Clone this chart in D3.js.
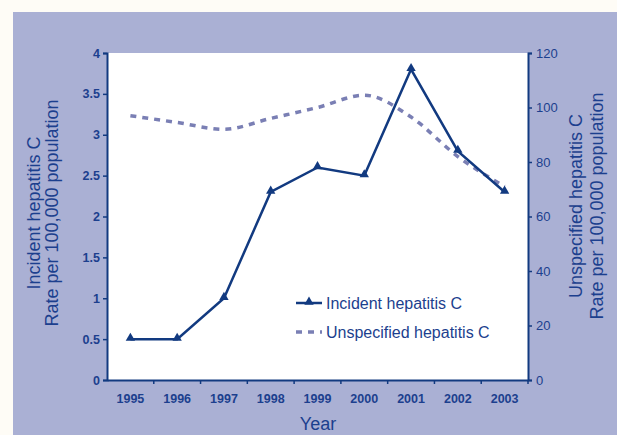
<!DOCTYPE html>
<html>
<head>
<meta charset="utf-8">
<script src="https://cdn.jsdelivr.net/npm/d3@7"></script>
<style>
  body { margin: 0; background: #fefcf6; }
  text { font-family: "Liberation Sans", Arial, sans-serif; }
</style>
</head>
<body>
<div id="chart"></div>
<script>
// chart values
var years = ["1995", "1996", "1997", "1998", "1999", "2000", "2001", "2002", "2003"];
var incident = [0.5, 0.5, 1.0, 2.3, 2.6, 2.5, 3.8, 2.8, 2.3];
var unspecified = [97, 94.5, 92, 96, 100, 104.5, 96.5, 82, 71];
var leftTicks = [0, 0.5, 1, 1.5, 2, 2.5, 3, 3.5, 4];
var rightTicks = [0, 20, 40, 60, 80, 100, 120];

var svgWidth = 617;
var svgHeight = 435;

var margin = { top: 53, right: 89, bottom: 55, left: 107 };
var width = 528 - margin.left;
var height = 380 - margin.top;

var ink = "#123a80";
var textCol = "#1c3f8e";

var svg = d3.select("#chart")
  .append("svg")
  .attr("width", svgWidth)
  .attr("height", svgHeight);

// lavender panel
svg.append("rect")
  .attr("x", 13).attr("y", 12)
  .attr("width", svgWidth - 13).attr("height", svgHeight - 12)
  .attr("fill", "#aab0d4");

var chartGroup = svg.append("g")
  .attr("transform", `translate(${margin.left}, ${margin.top})`);

chartGroup.append("rect")
  .attr("width", width).attr("height", height)
  .attr("fill", "#ffffff");

var xBand = d3.scaleBand().domain(years).range([0, width]);
var yLeft = d3.scaleLinear().domain([0, 4]).range([height, 0]);
var yRight = d3.scaleLinear().domain([0, 120]).range([height, 0]);

var xc = d => xBand(d) + xBand.bandwidth() / 2;

// axes
var bottomAxis = d3.axisBottom(xBand).tickSize(0).tickPadding(14);
var leftAxis = d3.axisLeft(yLeft).tickValues(leftTicks).tickSize(4).tickPadding(3)
  .tickFormat(d3.format("~g"));
var rightAxis = d3.axisRight(yRight).tickValues(rightTicks).tickSize(4).tickPadding(4);

var gx = chartGroup.append("g")
  .attr("transform", `translate(0, ${height})`)
  .call(bottomAxis);
// band boundary ticks
gx.selectAll(".bound")
  .data(years.slice(1).concat(["end"]))
  .enter().append("line")
  .attr("x1", (d, i) => xBand.bandwidth() * (i + 1))
  .attr("x2", (d, i) => xBand.bandwidth() * (i + 1))
  .attr("y1", 0).attr("y2", 4)
  .attr("stroke", ink).attr("stroke-width", 1.5);

var gl = chartGroup.append("g").call(leftAxis);
var gr = chartGroup.append("g")
  .attr("transform", `translate(${width}, 0)`)
  .call(rightAxis);

[gx, gl, gr].forEach(function(g) {
  g.selectAll("path.domain").attr("stroke", ink).attr("stroke-width", 2);
  g.selectAll(".tick line").attr("stroke", ink).attr("stroke-width", 1.5);
  g.selectAll(".tick text")
    .attr("fill", textCol)
    .style("font-size", "12.5px")
    .style("font-weight", "bold");
});
gr.selectAll(".tick text").style("font-weight", "normal").style("font-size", "13px");

// unspecified (right axis)
var lineR = d3.line()
  .x((d, i) => xc(years[i]))
  .y(d => yRight(d))
  .curve(d3.curveMonotoneX);

chartGroup.append("path")
  .datum(unspecified)
  .attr("d", lineR)
  .attr("fill", "none")
  .attr("stroke", "#7a7fb4")
  .attr("stroke-width", 3.5)
  .attr("stroke-dasharray", "6,6");

// incident (left axis)
var lineL = d3.line()
  .x((d, i) => xc(years[i]))
  .y(d => yLeft(d));

chartGroup.append("path")
  .datum(incident)
  .attr("d", lineL)
  .attr("fill", "none")
  .attr("stroke", ink)
  .attr("stroke-width", 2.5);

var tri = d3.symbol().type(d3.symbolTriangle).size(38);
chartGroup.selectAll(".pt")
  .data(incident)
  .enter().append("path")
  .attr("d", tri)
  .attr("transform", (d, i) => `translate(${xc(years[i])}, ${yLeft(d) - 1})`)
  .attr("fill", ink);

// legend
var legend = chartGroup.append("g")
  .attr("transform", `translate(${296 - margin.left}, ${303 - margin.top})`);
legend.append("line")
  .attr("x1", 0).attr("x2", 26).attr("y1", 0).attr("y2", 0)
  .attr("stroke", ink).attr("stroke-width", 2.5);
legend.append("path")
  .attr("d", tri).attr("transform", "translate(13, -1)").attr("fill", ink);
legend.append("text")
  .attr("x", 30).attr("y", 6)
  .attr("fill", textCol).style("font-size", "16px")
  .text("Incident hepatitis C");
legend.append("line")
  .attr("x1", 0).attr("x2", 26).attr("y1", 29).attr("y2", 29)
  .attr("stroke", "#7a7fb4").attr("stroke-width", 3.5)
  .attr("stroke-dasharray", "6,6");
legend.append("text")
  .attr("x", 30).attr("y", 35)
  .attr("fill", textCol).style("font-size", "16px")
  .text("Unspecified hepatitis C");

// axis titles
svg.append("text")
  .attr("x", 318).attr("y", 430)
  .attr("text-anchor", "middle")
  .attr("fill", textCol).style("font-size", "18px")
  .text("Year");

var leftTitle = svg.append("text")
  .attr("transform", "translate(40, 213) rotate(-90)")
  .attr("text-anchor", "middle")
  .attr("fill", textCol).style("font-size", "18px");
leftTitle.append("tspan").attr("x", 0).attr("dy", 0).text("Incident hepatitis C");
leftTitle.append("tspan").attr("x", 0).attr("dy", 18).text("Rate per 100,000 population");

var rightTitle = svg.append("text")
  .attr("transform", "translate(582, 206) rotate(-90)")
  .attr("text-anchor", "middle")
  .attr("fill", textCol).style("font-size", "18px");
rightTitle.append("tspan").attr("x", 0).attr("dy", 0).text("Unspecified hepatitis C");
rightTitle.append("tspan").attr("x", 0).attr("dy", 21).text("Rate per 100,000 population");
</script>
</body>
</html>
